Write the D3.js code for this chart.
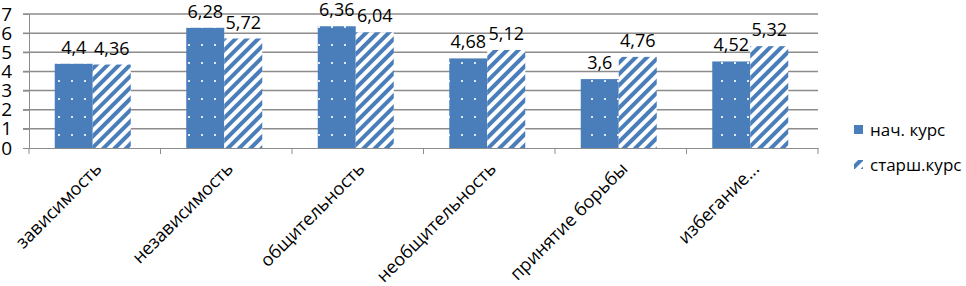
<!DOCTYPE html>
<html><head><meta charset="utf-8">
<script src="https://cdn.jsdelivr.net/npm/d3@7"></script>
<style>body{margin:0;background:#fff}svg{display:block}text{font-family:"Open Sans",sans-serif}</style>
</head><body><svg id="c" width="966" height="286"></svg>
<script>
const categories = ["зависимость","независимость","общительность","необщительность","принятие борьбы","избегание..."];
const seriesNames = ["нач. курс","старш.курс"];
const series1 = [4.4,6.28,6.36,4.68,3.6,4.52];
const series2 = [4.36,5.72,6.04,5.12,4.76,5.32];
const labels1 = ["4,4","6,28","6,36","4,68","3,6","4,52"];
const labels2 = ["4,36","5,72","6,04","5,12","4,76","5,32"];
const yTicks = [0,1,2,3,4,5,6,7];

const svg = d3.select("#c");
const blue = "#4a7ebb";
const defs = svg.append("defs");
const p1 = defs.append("pattern").attr("id","dots").attr("patternUnits","userSpaceOnUse").attr("width",13).attr("height",18);
p1.append("rect").attr("width",13).attr("height",18).attr("fill",blue);
p1.append("rect").attr("x",6).attr("y",8).attr("width",2).attr("height",2).attr("fill","#dfe8f5");
const p2 = defs.append("pattern").attr("id","stripes").attr("patternUnits","userSpaceOnUse").attr("width",8).attr("height",8).attr("patternTransform","rotate(45)");
p2.append("rect").attr("width",8).attr("height",8).attr("fill","#fff");
p2.append("rect").attr("width",4).attr("height",8).attr("fill",blue);

const L=29,R=818,T=14,B=148;
const x = d3.scaleBand().domain(categories).range([L,R]).paddingInner(0).paddingOuter(0);
const y = d3.scaleLinear().domain([0,7]).range([B,T]);
const bw = 38;

// gridlines
svg.append("g").selectAll("line").data(yTicks.slice(1)).join("line")
  .attr("x1",L-6).attr("x2",R).attr("y1",d=>y(d)).attr("y2",d=>y(d))
  .attr("stroke","#8c8c8c").attr("stroke-width",1.5);

// y axis
const ya = svg.append("g").attr("transform",`translate(${L},0)`).call(d3.axisLeft(y).tickValues(yTicks).tickFormat(d3.format("d")).tickSize(6).tickPadding(11));
ya.select(".domain").attr("stroke","#8c8c8c");
ya.selectAll("line").attr("stroke","#8c8c8c");
ya.selectAll("text").attr("font-size",19).attr("fill","#000").attr("font-family","Open Sans");

// x axis
const xa = svg.append("g").attr("transform",`translate(0,${B})`).call(d3.axisBottom(x).tickSize(0).tickFormat(""));
xa.select(".domain").attr("stroke","#8c8c8c");
svg.append("g").selectAll("line").data(d3.range(categories.length+1)).join("line")
  .attr("x1",i=>L+i*x.bandwidth()).attr("x2",i=>L+i*x.bandwidth()).attr("y1",B).attr("y2",B+6).attr("stroke","#8c8c8c");

const g = svg.append("g");
const data = categories.map((c,i)=>({c,v1:series1[i],v2:series2[i],l1:labels1[i],l2:labels2[i]}));
const cx = d=>x(d.c)+x.bandwidth()/2 - 2;
g.selectAll(".b1").data(data).join("rect").attr("x",d=>cx(d)-bw).attr("width",bw)
  .attr("y",d=>y(d.v1)).attr("height",d=>B-y(d.v1)).attr("fill","url(#dots)");
g.selectAll(".b2").data(data).join("rect").attr("x",d=>cx(d)).attr("width",bw)
  .attr("y",d=>y(d.v2)).attr("height",d=>B-y(d.v2)).attr("fill","url(#stripes)");
g.selectAll(".t1").data(data).join("text").attr("x",d=>cx(d)-bw/2).attr("y",d=>y(d.v1)-10)
  .attr("text-anchor","middle").attr("font-size",18).text(d=>d.l1);
g.selectAll(".t2").data(data).join("text").attr("x",d=>cx(d)+bw/2).attr("y",d=>y(d.v2)-10)
  .attr("text-anchor","middle").attr("font-size",18).text(d=>d.l2);

// x labels
svg.append("g").selectAll("text").data(categories).join("text")
  .attr("transform",d=>`translate(${x(d)+x.bandwidth()/2+8},${B+22}) rotate(-45)`)
  .attr("text-anchor","end").attr("font-size",18).text(d=>d);

// legend
const lg = svg.append("g");
seriesNames.forEach((n,i)=>{
  const yy = 130 + i*35;
  lg.append("rect").attr("x",854).attr("y",yy-5).attr("width",9).attr("height",9).attr("fill",i?"url(#stripes)":"url(#dots)");
  lg.append("text").attr("x",870).attr("y",yy+6).attr("font-size",17).text(n);
});
</script></body></html>
